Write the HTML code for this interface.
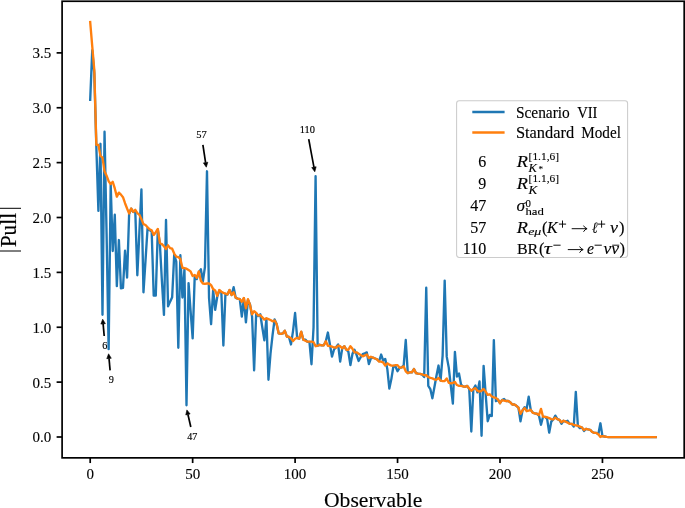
<!DOCTYPE html>
<html><head><meta charset="utf-8"><title>Pull plot</title>
<style>
html,body{margin:0;padding:0;background:#fff;}
svg{display:block;will-change:transform;opacity:0.999;}
text{font-family:"Liberation Serif",serif;fill:#000;stroke:#000;stroke-width:0.12px;}
.tk{font-size:15px;}
.lg{font-size:16px;}
.it{font-style:italic;}
.sm{font-size:10.3px;}
.an{font-size:10.2px;stroke-width:0.15px;}
</style></head><body>
<svg width="685" height="508" viewBox="0 0 685 508">
<rect x="0" y="0" width="685" height="508" fill="#ffffff"/>

<path d="M90.20,99.80 L92.25,50.30 L94.30,73.40 L96.35,147.10 L98.40,210.90 L100.45,143.80 L102.49,314.85 L104.54,131.70 L106.59,234.00 L108.64,349.17 L110.69,184.50 L112.74,251.05 L114.79,214.75 L116.84,286.14 L118.89,240.05 L120.94,288.34 L122.98,287.90 L125.03,250.72 L127.08,277.56 L129.13,214.20 L131.18,208.70 L133.23,212.00 L135.28,210.90 L137.33,275.25 L139.38,232.35 L141.43,189.45 L143.47,292.30 L145.52,260.40 L147.57,227.95 L149.62,230.15 L151.67,231.25 L153.72,295.60 L155.77,295.60 L157.82,229.60 L159.87,243.90 L161.92,281.30 L163.96,314.85 L166.01,219.92 L168.06,306.38 L170.11,301.65 L172.16,297.25 L174.21,254.90 L176.26,261.50 L178.31,347.74 L180.36,255.23 L182.41,297.47 L184.45,269.20 L186.50,405.27 L188.55,283.06 L190.60,311.00 L192.65,338.39 L194.70,276.90 L196.75,279.10 L198.80,272.50 L200.85,269.31 L202.89,281.30 L204.94,267.00 L206.99,171.30 L209.04,297.80 L211.09,324.20 L213.14,290.10 L215.19,309.90 L217.24,296.70 L219.29,290.65 L221.34,292.30 L223.38,345.54 L225.43,293.95 L227.48,294.50 L229.53,290.10 L231.58,295.05 L233.63,287.24 L235.68,297.80 L237.73,298.57 L239.78,299.12 L241.83,316.61 L243.88,298.35 L245.92,322.44 L247.97,300.00 L250.02,304.40 L252.07,316.50 L254.12,370.40 L256.17,313.20 L258.22,315.95 L260.27,314.30 L262.32,327.50 L264.37,340.37 L266.41,318.70 L268.46,379.75 L270.51,353.57 L272.56,335.20 L274.61,319.47 L276.66,324.20 L278.71,333.44 L280.76,333.88 L282.81,333.44 L284.86,330.80 L286.90,336.52 L288.95,336.96 L291.00,344.44 L293.05,330.80 L295.10,312.98 L297.15,337.84 L299.20,338.72 L301.25,331.90 L303.30,339.60 L305.34,339.60 L307.39,341.80 L309.44,341.80 L311.49,364.24 L313.54,327.50 L315.59,176.25 L317.64,345.76 L319.69,344.77 L321.74,345.32 L323.79,345.32 L325.83,341.25 L327.88,332.56 L329.93,344.55 L331.98,356.65 L334.03,349.50 L336.08,347.30 L338.13,344.55 L340.18,361.60 L342.23,348.40 L344.28,346.20 L346.32,349.72 L348.37,351.70 L350.42,365.12 L352.47,353.90 L354.52,349.83 L356.57,354.78 L358.62,360.94 L360.67,357.20 L362.72,354.12 L364.77,353.35 L366.81,352.36 L368.86,364.13 L370.91,358.30 L372.96,357.64 L375.01,358.52 L377.06,359.40 L379.11,361.05 L381.16,354.56 L383.21,360.72 L385.26,358.96 L387.31,368.97 L389.35,388.55 L391.40,378.87 L393.45,366.00 L395.50,366.55 L397.55,371.17 L399.60,367.98 L401.65,367.32 L403.70,365.45 L405.75,340.04 L407.79,373.15 L409.84,372.27 L411.89,372.27 L413.94,369.08 L415.99,373.15 L418.04,373.70 L420.09,373.92 L422.14,374.58 L424.19,377.00 L426.24,287.79 L428.28,385.80 L430.33,389.10 L432.38,398.34 L434.43,387.01 L436.48,375.68 L438.53,365.56 L440.58,380.63 L442.63,355.55 L444.68,280.64 L446.73,356.65 L448.77,367.65 L450.82,385.80 L452.87,403.62 L454.92,351.81 L456.97,376.56 L459.02,373.59 L461.07,384.70 L463.12,386.35 L465.17,386.79 L467.22,385.91 L469.26,389.10 L471.31,431.56 L473.36,389.10 L475.41,385.47 L477.46,392.40 L479.51,381.51 L481.56,435.74 L483.61,365.89 L485.66,394.05 L487.71,421.22 L489.75,414.84 L491.80,415.94 L493.85,340.15 L495.90,401.20 L497.95,399.55 L500.00,403.18 L502.05,400.10 L504.10,399.00 L506.15,400.98 L508.20,400.98 L510.24,402.30 L512.29,404.50 L514.34,404.50 L516.39,405.82 L518.44,407.58 L520.49,421.22 L522.54,410.33 L524.59,407.25 L526.64,408.90 L528.69,396.58 L530.74,410.00 L532.78,412.53 L534.83,413.30 L536.88,413.74 L538.93,415.50 L540.98,424.74 L543.03,416.82 L545.08,416.82 L547.13,418.80 L549.18,432.66 L551.23,421.66 L553.27,419.46 L555.32,415.61 L557.37,419.13 L559.42,419.90 L561.47,423.75 L563.52,420.78 L565.57,421.66 L567.62,420.78 L569.67,423.86 L571.72,423.86 L573.76,426.50 L575.81,391.85 L577.86,425.73 L579.91,428.15 L581.96,427.49 L584.01,430.90 L586.06,428.81 L588.11,429.36 L590.16,429.80 L592.21,432.00 L594.25,432.88 L596.30,432.88 L598.35,434.31 L600.40,423.31 L602.45,436.07 L604.50,436.51 L606.55,436.95 L608.60,437.06 L610.65,437.06 L612.70,437.06 L614.74,437.06 L616.79,437.06 L618.84,437.06 L620.89,437.06 L622.94,437.06 L624.99,437.06 L627.04,437.06 L629.09,437.06 L631.14,437.06 L633.19,437.06 L635.23,437.06 L637.28,437.06 L639.33,437.06 L641.38,437.06 L643.43,437.06 L645.48,437.06 L647.53,437.06 L649.58,437.06 L651.63,437.06 L653.68,437.06 L655.72,437.06" fill="none" stroke="#1f77b4" stroke-width="2.35" stroke-linejoin="round" stroke-linecap="square"/>
<path d="M90.20,22.03 L92.25,46.34 L94.30,70.10 L96.35,144.90 L98.40,144.90 L100.45,155.90 L102.49,157.55 L104.54,171.30 L106.59,175.70 L108.64,181.20 L110.69,183.95 L112.74,181.75 L114.79,188.46 L116.84,196.60 L118.89,192.64 L120.94,194.62 L122.98,197.15 L125.03,203.20 L127.08,208.48 L129.13,213.43 L131.18,208.48 L133.23,211.78 L135.28,209.80 L137.33,213.10 L139.38,214.86 L141.43,219.15 L143.47,224.10 L145.52,224.98 L147.57,227.18 L149.62,229.38 L151.67,230.26 L153.72,234.99 L155.77,232.24 L157.82,228.94 L159.87,243.02 L161.92,244.12 L163.96,246.32 L166.01,248.96 L168.06,245.33 L170.11,248.08 L172.16,248.74 L174.21,253.58 L176.26,256.55 L178.31,257.10 L180.36,258.97 L182.41,267.77 L184.45,268.21 L186.50,268.65 L188.55,269.97 L190.60,271.40 L192.65,276.02 L194.70,274.92 L196.75,277.78 L198.80,271.40 L200.85,280.75 L202.89,283.50 L204.94,283.83 L206.99,283.50 L209.04,283.50 L211.09,285.15 L213.14,289.11 L215.19,290.43 L217.24,295.82 L219.29,289.99 L221.34,291.75 L223.38,292.85 L225.43,293.51 L227.48,294.50 L229.53,289.88 L231.58,294.94 L233.63,292.30 L235.68,297.69 L237.73,298.57 L239.78,299.12 L241.83,301.65 L243.88,297.91 L245.92,308.25 L247.97,299.12 L250.02,304.95 L252.07,314.30 L254.12,311.22 L256.17,312.87 L258.22,315.62 L260.27,315.18 L262.32,317.38 L264.37,319.58 L266.41,318.26 L268.46,319.14 L270.51,320.02 L272.56,321.34 L274.61,320.46 L276.66,323.98 L278.71,333.44 L280.76,333.88 L282.81,333.44 L284.86,330.80 L286.90,336.52 L288.95,336.96 L291.00,338.28 L293.05,341.03 L295.10,338.72 L297.15,337.84 L299.20,338.72 L301.25,331.68 L303.30,339.60 L305.34,340.70 L307.39,341.69 L309.44,341.69 L311.49,341.69 L313.54,342.24 L315.59,346.20 L317.64,345.76 L319.69,344.77 L321.74,345.32 L323.79,345.32 L325.83,341.25 L327.88,345.76 L329.93,346.20 L331.98,346.64 L334.03,347.52 L336.08,347.52 L338.13,345.76 L340.18,346.20 L342.23,348.40 L344.28,346.20 L346.32,349.72 L348.37,349.72 L350.42,346.20 L352.47,348.84 L354.52,352.36 L356.57,352.36 L358.62,353.68 L360.67,355.00 L362.72,356.32 L364.77,355.44 L366.81,354.45 L368.86,358.08 L370.91,356.76 L372.96,357.64 L375.01,358.52 L377.06,359.40 L379.11,361.60 L381.16,361.60 L383.21,362.48 L385.26,365.56 L387.31,363.36 L389.35,364.68 L391.40,365.56 L393.45,365.56 L395.50,365.12 L397.55,365.12 L399.60,367.76 L401.65,367.32 L403.70,366.44 L405.75,371.28 L407.79,373.15 L409.84,372.27 L411.89,372.27 L413.94,369.08 L415.99,373.15 L418.04,373.70 L420.09,373.92 L422.14,374.47 L424.19,375.24 L426.24,375.24 L428.28,377.00 L430.33,377.88 L432.38,378.43 L434.43,379.31 L436.48,379.75 L438.53,377.88 L440.58,380.63 L442.63,381.07 L444.68,381.07 L446.73,378.43 L448.77,382.83 L450.82,383.27 L452.87,382.83 L454.92,381.95 L456.97,385.03 L459.02,385.91 L461.07,385.91 L463.12,386.35 L465.17,386.79 L467.22,385.91 L469.26,388.55 L471.31,390.75 L473.36,388.99 L475.41,388.11 L477.46,390.75 L479.51,391.63 L481.56,390.75 L483.61,388.99 L485.66,391.63 L487.71,394.82 L489.75,394.27 L491.80,396.47 L493.85,397.35 L495.90,397.90 L497.95,399.55 L500.00,403.18 L502.05,400.10 L504.10,400.54 L506.15,400.98 L508.20,400.98 L510.24,402.30 L512.29,404.50 L514.34,404.50 L516.39,405.82 L518.44,407.58 L520.49,413.85 L522.54,410.33 L524.59,408.02 L526.64,411.21 L528.69,410.66 L530.74,409.78 L532.78,412.86 L534.83,413.30 L536.88,413.74 L538.93,415.06 L540.98,408.90 L543.03,416.82 L545.08,416.82 L547.13,417.26 L549.18,418.14 L551.23,419.13 L553.27,419.46 L555.32,417.70 L557.37,419.13 L559.42,419.90 L561.47,422.21 L563.52,420.78 L565.57,421.66 L567.62,422.65 L569.67,423.86 L571.72,423.86 L573.76,424.85 L575.81,425.29 L577.86,425.73 L579.91,426.61 L581.96,427.49 L584.01,430.13 L586.06,428.81 L588.11,429.36 L590.16,429.80 L592.21,432.00 L594.25,432.88 L596.30,432.88 L598.35,434.31 L600.40,436.95 L602.45,436.07 L604.50,436.51 L606.55,436.95 L608.60,437.06 L610.65,437.06 L612.70,437.06 L614.74,437.06 L616.79,437.06 L618.84,437.06 L620.89,437.06 L622.94,437.06 L624.99,437.06 L627.04,437.06 L629.09,437.06 L631.14,437.06 L633.19,437.06 L635.23,437.06 L637.28,437.06 L639.33,437.06 L641.38,437.06 L643.43,437.06 L645.48,437.06 L647.53,437.06 L649.58,437.06 L651.63,437.06 L653.68,437.06 L655.72,437.06" fill="none" stroke="#ff7f0e" stroke-width="2.35" stroke-linejoin="round" stroke-linecap="square"/>
<rect x="62.1" y="1.25" width="622.1" height="456.6" fill="none" stroke="#000" stroke-width="1.7"/>
<line x1="90.20" y1="457.85" x2="90.20" y2="463.05" stroke="#000" stroke-width="1.7"/>
<text class="tk" x="90.20" y="479" text-anchor="middle">0</text>
<line x1="192.65" y1="457.85" x2="192.65" y2="463.05" stroke="#000" stroke-width="1.7"/>
<text class="tk" x="192.65" y="479" text-anchor="middle">50</text>
<line x1="295.10" y1="457.85" x2="295.10" y2="463.05" stroke="#000" stroke-width="1.7"/>
<text class="tk" x="295.10" y="479" text-anchor="middle">100</text>
<line x1="397.55" y1="457.85" x2="397.55" y2="463.05" stroke="#000" stroke-width="1.7"/>
<text class="tk" x="397.55" y="479" text-anchor="middle">150</text>
<line x1="500.00" y1="457.85" x2="500.00" y2="463.05" stroke="#000" stroke-width="1.7"/>
<text class="tk" x="500.00" y="479" text-anchor="middle">200</text>
<line x1="602.45" y1="457.85" x2="602.45" y2="463.05" stroke="#000" stroke-width="1.7"/>
<text class="tk" x="602.45" y="479" text-anchor="middle">250</text>
<line x1="62.1" y1="437.00" x2="56.60" y2="437.00" stroke="#000" stroke-width="1.7"/>
<text class="tk" x="51.3" y="442.40" text-anchor="end">0.0</text>
<line x1="62.1" y1="382.12" x2="56.60" y2="382.12" stroke="#000" stroke-width="1.7"/>
<text class="tk" x="51.3" y="387.52" text-anchor="end">0.5</text>
<line x1="62.1" y1="327.25" x2="56.60" y2="327.25" stroke="#000" stroke-width="1.7"/>
<text class="tk" x="51.3" y="332.65" text-anchor="end">1.0</text>
<line x1="62.1" y1="272.38" x2="56.60" y2="272.38" stroke="#000" stroke-width="1.7"/>
<text class="tk" x="51.3" y="277.77" text-anchor="end">1.5</text>
<line x1="62.1" y1="217.50" x2="56.60" y2="217.50" stroke="#000" stroke-width="1.7"/>
<text class="tk" x="51.3" y="222.90" text-anchor="end">2.0</text>
<line x1="62.1" y1="162.62" x2="56.60" y2="162.62" stroke="#000" stroke-width="1.7"/>
<text class="tk" x="51.3" y="168.03" text-anchor="end">2.5</text>
<line x1="62.1" y1="107.75" x2="56.60" y2="107.75" stroke="#000" stroke-width="1.7"/>
<text class="tk" x="51.3" y="113.15" text-anchor="end">3.0</text>
<line x1="62.1" y1="52.88" x2="56.60" y2="52.88" stroke="#000" stroke-width="1.7"/>
<text class="tk" x="51.3" y="58.27" text-anchor="end">3.5</text>
<text x="373.2" y="507" text-anchor="middle" font-size="21px" textLength="98.4" lengthAdjust="spacingAndGlyphs">Observable</text>
<text transform="translate(16.2,230.1) rotate(-90)" text-anchor="middle" font-size="22.5px" textLength="34.4" lengthAdjust="spacingAndGlyphs">Pull</text>
<path d="M0,208.3 H21 M0,251.0 H21" stroke="#000" stroke-width="1.0" fill="none"/>
<text class="an" x="201.5" y="138.2" text-anchor="middle" textLength="10.5" lengthAdjust="spacingAndGlyphs">57</text>
<line x1="202.90" y1="144.90" x2="205.59" y2="162.55" stroke="#000" stroke-width="1.7"/>
<polygon points="206.30,167.20 203.37,162.89 207.82,162.21" fill="#000" stroke="#000" stroke-width="0.6" stroke-linejoin="miter"/>
<text class="an" x="307.4" y="132.5" text-anchor="middle" textLength="15.2" lengthAdjust="spacingAndGlyphs">110</text>
<line x1="308.70" y1="139.10" x2="313.94" y2="167.18" stroke="#000" stroke-width="1.7"/>
<polygon points="314.80,171.80 311.73,167.59 316.15,166.77" fill="#000" stroke="#000" stroke-width="0.6" stroke-linejoin="miter"/>
<text class="an" x="104.9" y="348.7" text-anchor="middle">6</text>
<line x1="104.20" y1="336.00" x2="103.12" y2="323.88" stroke="#000" stroke-width="1.7"/>
<polygon points="102.70,319.20 105.36,323.68 100.88,324.08" fill="#000" stroke="#000" stroke-width="0.6" stroke-linejoin="miter"/>
<text class="an" x="111.4" y="383.0" text-anchor="middle">9</text>
<line x1="110.10" y1="370.30" x2="109.03" y2="358.48" stroke="#000" stroke-width="1.7"/>
<polygon points="108.60,353.80 111.27,358.28 106.78,358.68" fill="#000" stroke="#000" stroke-width="0.6" stroke-linejoin="miter"/>
<text class="an" x="192.2" y="440.0" text-anchor="middle" textLength="10.1" lengthAdjust="spacingAndGlyphs">47</text>
<line x1="190.80" y1="427.00" x2="187.95" y2="414.48" stroke="#000" stroke-width="1.7"/>
<polygon points="186.90,409.90 190.14,413.98 185.75,414.98" fill="#000" stroke="#000" stroke-width="0.6" stroke-linejoin="miter"/>
<rect x="456.6" y="100.8" width="171" height="156.6" rx="2.6" ry="2.6" fill="#fff" fill-opacity="0.8" stroke="#cccccc" stroke-width="1.05"/>
<line x1="472.3" y1="112" x2="504.6" y2="112" stroke="#1f77b4" stroke-width="2.35"/>
<line x1="472.3" y1="132.5" x2="504.6" y2="132.5" stroke="#ff7f0e" stroke-width="2.35"/>
<text class="lg" x="515.9" y="117.6" textLength="53.9" lengthAdjust="spacingAndGlyphs">Scenario</text>
<text class="lg" x="577.2" y="117.6" textLength="20.3" lengthAdjust="spacingAndGlyphs">VII</text>
<text class="lg" x="515.9" y="138.2" textLength="58.2" lengthAdjust="spacingAndGlyphs">Standard</text>
<text class="lg" x="581.3" y="138.2" textLength="39.6" lengthAdjust="spacingAndGlyphs">Model</text>
<text class="lg" x="486.2" y="167.3" text-anchor="end">6</text>
<text class="lg" x="486.2" y="189.1" text-anchor="end">9</text>
<text class="lg" x="486.2" y="210.7" text-anchor="end">47</text>
<text class="lg" x="486.2" y="232.5" text-anchor="end">57</text>
<text class="lg" x="486.2" y="254.0" text-anchor="end">110</text>
<text x="516.8" y="167.3" font-size="16.5px" font-style="italic" textLength="11.2" lengthAdjust="spacingAndGlyphs">R</text>
<text x="528.6" y="160.2" font-size="10.8px" textLength="30.4" lengthAdjust="spacingAndGlyphs" stroke-width="0.1">[1.1,6]</text>
<text x="528.6" y="172.1" font-size="12px" font-style="italic" textLength="8.4" lengthAdjust="spacingAndGlyphs" stroke-width="0.1">K</text>
<text x="538.4" y="172.2" font-size="9px" stroke-width="0.1">*</text>
<text x="516.8" y="189.3" font-size="16.5px" font-style="italic" textLength="11.2" lengthAdjust="spacingAndGlyphs">R</text>
<text x="528.6" y="182.4" font-size="10.8px" textLength="30.4" lengthAdjust="spacingAndGlyphs" stroke-width="0.1">[1.1,6]</text>
<text x="528.6" y="193.5" font-size="12px" font-style="italic" textLength="8.8" lengthAdjust="spacingAndGlyphs" stroke-width="0.1">K</text>
<text x="516.6" y="210.5" font-size="16px" font-style="italic" textLength="8.6" lengthAdjust="spacingAndGlyphs">σ</text>
<text x="525.4" y="207.3" font-size="10.8px" stroke-width="0.1">0</text>
<text x="525.4" y="214.5" font-size="10.8px" textLength="18.4" lengthAdjust="spacingAndGlyphs" stroke-width="0.1">had</text>
<text x="516.8" y="232.5" font-size="16.5px" font-style="italic" textLength="11.2" lengthAdjust="spacingAndGlyphs">R</text>
<text x="528.2" y="235.0" font-size="11.2px" font-style="italic" textLength="13.2" lengthAdjust="spacingAndGlyphs" stroke-width="0.1">eμ</text>
<text x="542.0" y="232.5" font-size="16.5px">(</text>
<text x="546.9" y="232.5" font-size="16.5px" font-style="italic" textLength="10.6" lengthAdjust="spacingAndGlyphs">K</text>
<path d="M558.9,224.1 H566.1 M562.5,220.5 V227.7" fill="none" stroke="#000" stroke-width="0.95"/>
<path d="M571.7,228.7 H586.5 M583.5,225.6 Q584.7,228.0 587.1,228.7 Q584.7,229.39999999999998 583.5,231.79999999999998" fill="none" stroke="#000" stroke-width="0.95"/>
<text x="592.0" y="232.5" font-size="15.5px" font-style="italic" textLength="5.4" lengthAdjust="spacingAndGlyphs">ℓ</text>
<path d="M598.0,224.1 H605.2 M601.6,220.5 V227.7" fill="none" stroke="#000" stroke-width="0.95"/>
<text x="609.9" y="232.5" font-size="16.5px" font-style="italic" textLength="8.0" lengthAdjust="spacingAndGlyphs">ν</text>
<text x="619.0" y="232.5" font-size="16.5px">)</text>
<text x="516.9" y="253.7" font-size="15.5px" textLength="21.4" lengthAdjust="spacingAndGlyphs">BR</text>
<text x="539.0" y="253.7" font-size="16.5px">(</text>
<text x="543.8" y="253.7" font-size="16.5px" font-style="italic" textLength="8.0" lengthAdjust="spacingAndGlyphs">τ</text>
<path d="M553.4,245.2 H560.6" fill="none" stroke="#000" stroke-width="0.95"/>
<path d="M567.8,249.6 H582.6 M579.6,246.5 Q580.8000000000001,248.9 583.2,249.6 Q580.8000000000001,250.29999999999998 579.6,252.7" fill="none" stroke="#000" stroke-width="0.95"/>
<text x="586.9" y="253.7" font-size="16.5px" font-style="italic" textLength="7.0" lengthAdjust="spacingAndGlyphs">e</text>
<path d="M594.6,245.2 H601.8000000000001" fill="none" stroke="#000" stroke-width="0.95"/>
<text x="603.5" y="253.7" font-size="16.5px" font-style="italic" textLength="7.8" lengthAdjust="spacingAndGlyphs">ν</text>
<text x="611.3" y="253.7" font-size="16.5px" font-style="italic" textLength="7.8" lengthAdjust="spacingAndGlyphs">ν</text>
<line x1="612.2" y1="245.2" x2="619.2" y2="245.2" stroke="#000" stroke-width="0.9"/>
<text x="619.6" y="253.7" font-size="16.5px">)</text>
</svg></body></html>
